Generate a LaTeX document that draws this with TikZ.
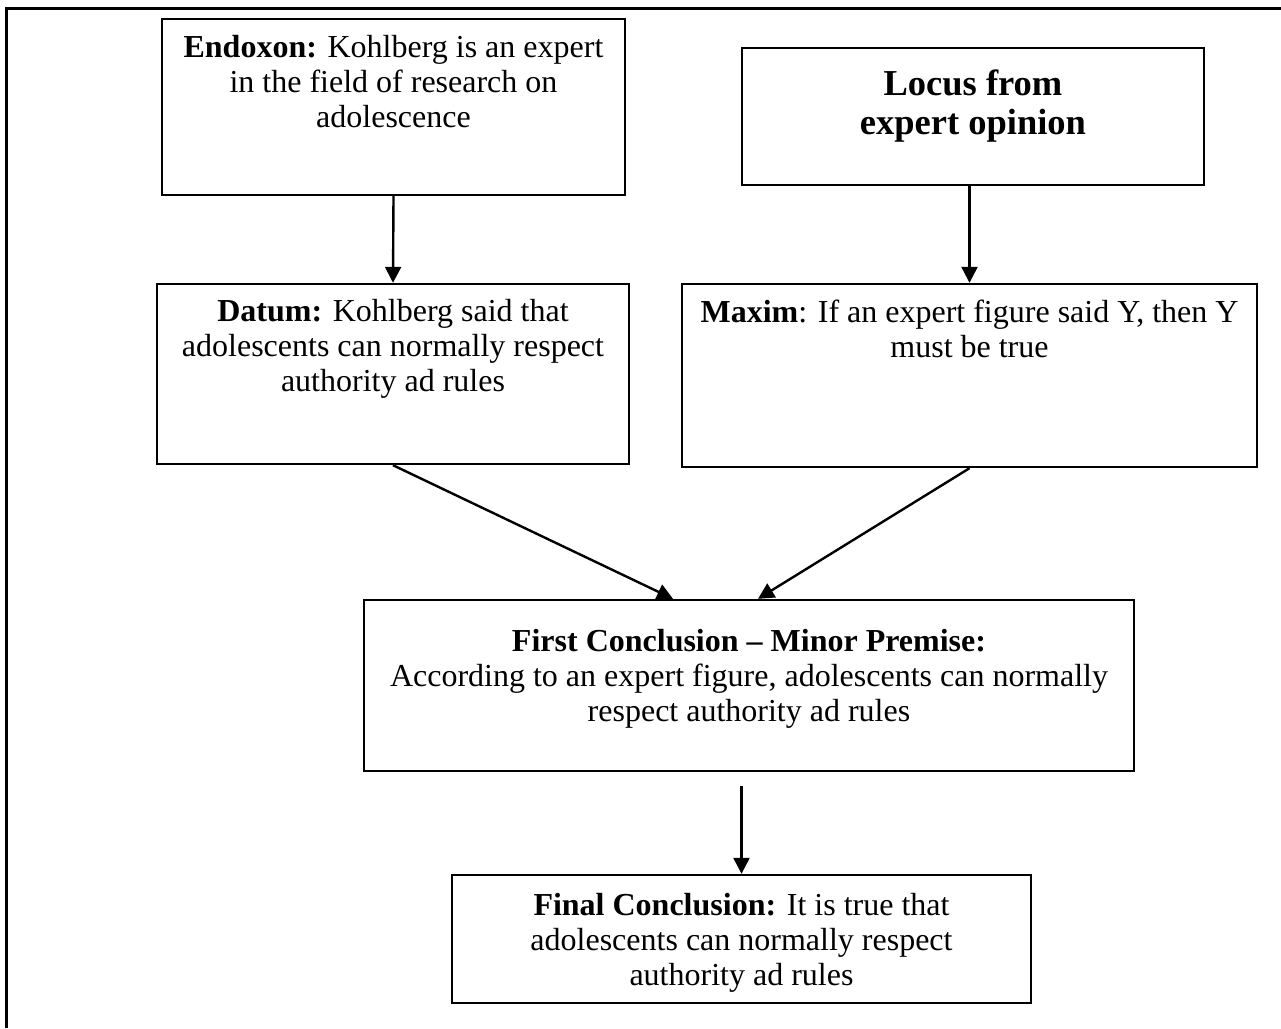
\documentclass[tikz,border=0pt]{standalone}
\usepackage{fontspec}
\setmainfont{Liberation Serif}
\usetikzlibrary{arrows.meta}

% text of a box: width, height, first baseline from the top, lines
\newcommand{\argbox}[4]{\parbox[c][#2][t]{#1}{\centering\rule{0pt}{#3}#4}}
\newcommand{\locusfont}{\fontsize{36.5}{39}\selectfont\bfseries}

\begin{document}
\begin{tikzpicture}[x=1pt, y=-1pt, >={Triangle[width=16pt,length=16pt]},
    box/.style={draw, line width=2.4pt, inner sep=0pt},
    every path/.style={line width=2.4pt},
    font=\fontsize{32}{35}\selectfont]
  \useasboundingbox (0,0) rectangle (1281,1028);
  \draw[line width=3pt] (6,1028) -- (6,8) -- (1281,8);

  \node[box] (endoxon) at (393.5,107) {\argbox{463pt}{176pt}{38pt}{\textbf{Endoxon:} Kohlberg is an expert\\ in the field of research on\\ adolescence}};
  \node[box, font=\locusfont] (locus) at (973,116.5) {\argbox{462pt}{137pt}{47pt}{Locus from\\ expert opinion}};

  \node[box] (datum) at (393,374) {\argbox{472pt}{180pt}{37pt}{\textbf{Datum:} Kohlberg said that\\ adolescents can normally respect\\ authority ad rules}};
  \node[box] (maxim) at (969.5,375.5) {\argbox{575pt}{183pt}{38pt}{\textbf{Maxim}: If an expert figure said Y, then Y\\ must be true}};
  \draw[->] (endoxon.south) to (datum.north);
  \draw[->] (locus.south -| maxim.north) to (maxim.north);

  \node[box] (first) at (749,685.5) {\argbox{770pt}{171pt}{51pt}{\textbf{First Conclusion -- Minor Premise:}\\ According to an expert figure, adolescents can normally\\ respect authority ad rules}};
  \draw[->] (datum.south) to ([xshift=-76pt]first.north);
  \draw[->] (maxim.south) to ([xshift=9pt]first.north);

  \node[box] (final) at (741.5,939) {\argbox{579pt}{128pt}{40pt}{\textbf{Final Conclusion:} It is true that\\ adolescents can normally respect\\ authority ad rules}};
  \draw[->, shorten <=14pt] (first.south -| final.north) to (final.north);
\end{tikzpicture}
\end{document}
